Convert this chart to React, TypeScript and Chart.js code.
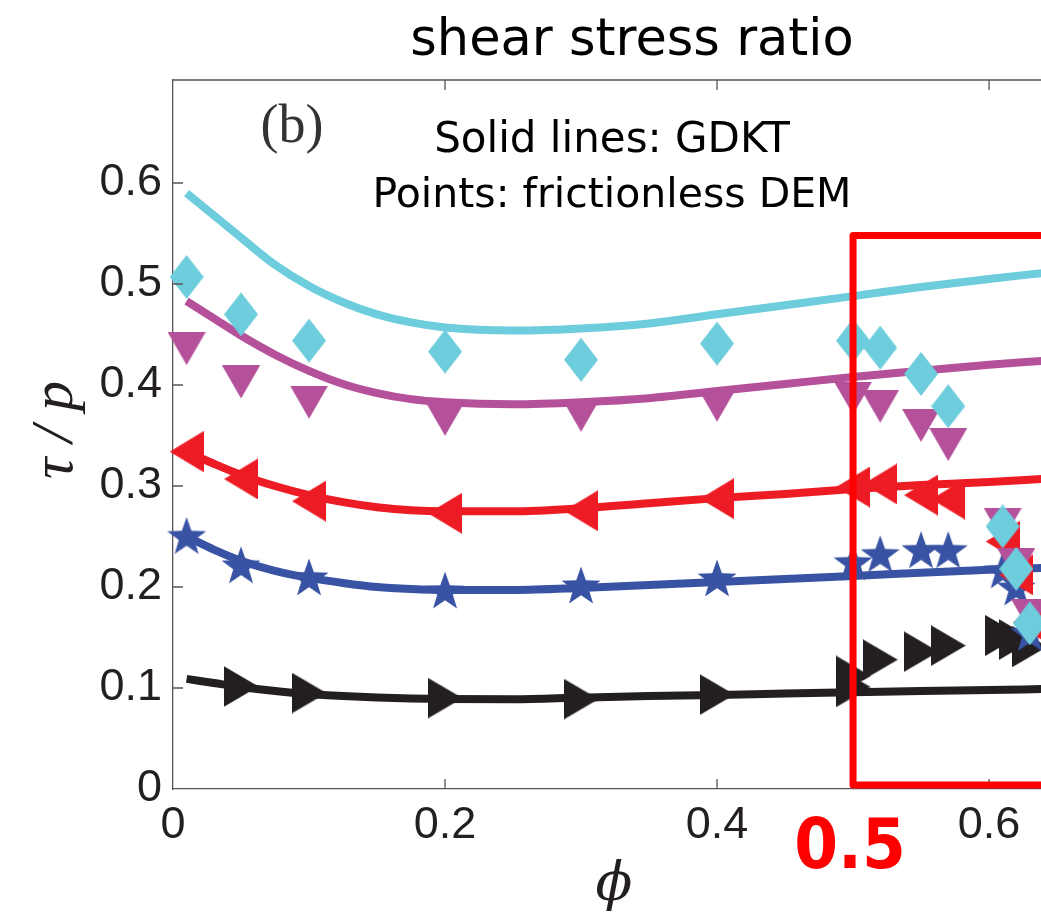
import React, { useEffect, useRef } from 'react';
import { Chart, registerables } from 'chart.js';

Chart.register(...registerables);

// ---- GDKT solid lines (phi, tau/p) ----
const phiLine = [0.01, 0.03, 0.05, 0.075, 0.1, 0.125, 0.15, 0.175, 0.2, 0.25, 0.3, 0.35, 0.4, 0.45, 0.5, 0.55, 0.6, 0.64];
const cyanLine = [0.59, 0.568, 0.546, 0.519, 0.498, 0.482, 0.47, 0.462, 0.457, 0.454, 0.456, 0.461, 0.47, 0.479, 0.488, 0.497, 0.505, 0.511];
const magentaLine = [0.483, 0.466, 0.449, 0.43, 0.414, 0.401, 0.392, 0.386, 0.383, 0.381, 0.383, 0.387, 0.394, 0.401, 0.408, 0.414, 0.42, 0.424];
const redLine = [0.334, 0.322, 0.311, 0.3, 0.291, 0.284, 0.279, 0.276, 0.275, 0.275, 0.278, 0.283, 0.288, 0.292, 0.297, 0.301, 0.304, 0.307];
const blueLine = [0.25, 0.237, 0.226, 0.216, 0.209, 0.204, 0.2, 0.198, 0.197, 0.197, 0.199, 0.202, 0.205, 0.208, 0.211, 0.214, 0.217, 0.219];
const blackLine = [0.109, 0.105, 0.101, 0.097, 0.094, 0.092, 0.0905, 0.0895, 0.089, 0.0888, 0.0905, 0.092, 0.093, 0.0945, 0.0957, 0.097, 0.098, 0.099];

// ---- frictionless DEM points ----
const cyanPhi = [0.01, 0.05, 0.1, 0.2, 0.3, 0.4, 0.5, 0.52, 0.55, 0.57, 0.61, 0.62, 0.63];
const cyanPts = [0.507, 0.47, 0.444, 0.433, 0.425, 0.441, 0.444, 0.437, 0.411, 0.379, 0.26, 0.218, 0.164];
const magentaPhi = [0.01, 0.05, 0.1, 0.2, 0.3, 0.4, 0.5, 0.52, 0.55, 0.57, 0.61, 0.62, 0.63];
const magentaPts = [0.436, 0.403, 0.383, 0.366, 0.37, 0.38, 0.387, 0.379, 0.36, 0.341, 0.262, 0.222, 0.172];
const redPhi = [0.01, 0.05, 0.1, 0.2, 0.3, 0.4, 0.5, 0.52, 0.55, 0.57, 0.61, 0.62, 0.63];
const redPts = [0.334, 0.307, 0.285, 0.273, 0.2755, 0.2875, 0.299, 0.302, 0.291, 0.287, 0.245, 0.212, 0.165];
const bluePhi = [0.01, 0.05, 0.1, 0.2, 0.3, 0.4, 0.5, 0.52, 0.55, 0.57, 0.61, 0.62, 0.63];
const bluePts = [0.251, 0.222, 0.21, 0.197, 0.202, 0.209, 0.225, 0.233, 0.237, 0.237, 0.217, 0.2, 0.155];
const blackPhi = [0.05, 0.1, 0.2, 0.3, 0.4, 0.5, 0.5, 0.52, 0.55, 0.57, 0.61, 0.62, 0.63];
const blackPts = [0.1015, 0.095, 0.09, 0.089, 0.0935, 0.112, 0.101, 0.128, 0.136, 0.142, 0.152, 0.148, 0.141];

const xTicks = [0, 0.2, 0.4, 0.6];
const yTicks = [0, 0.1, 0.2, 0.3, 0.4, 0.5, 0.6];

const CYAN = '#6dcddc';
const MAGENTA = '#b5519b';
const RED = '#ed1c24';
const BLUE = '#3953a4';
const BLACK = '#231f20';

function makeMarker(kind: string, color: string): HTMLCanvasElement {
  const c = document.createElement('canvas');
  let w = 34, h = 44;
  if (kind === 'down') { w = 38; h = 33; }
  if (kind === 'left') { w = 34; h = 41; }
  if (kind === 'right') { w = 35; h = 41; }
  if (kind === 'star') { w = 42; h = 42; }
  c.width = w; c.height = h;
  const g = c.getContext('2d')!;
  g.fillStyle = color;
  g.beginPath();
  if (kind === 'diamond') {
    g.moveTo(w / 2, 0); g.lineTo(w, h / 2); g.lineTo(w / 2, h); g.lineTo(0, h / 2);
  } else if (kind === 'down') {
    g.moveTo(0, 0); g.lineTo(w, 0); g.lineTo(w / 2, h);
  } else if (kind === 'left') {
    g.moveTo(0, h / 2); g.lineTo(w, 0); g.lineTo(w, h);
  } else if (kind === 'right') {
    g.moveTo(0, 0); g.lineTo(w, h / 2); g.lineTo(0, h);
  } else {
    const R = 20.5, r = 8.2, cx = w / 2, cy = h / 2 + 2;
    for (let i = 0; i < 10; i++) {
      const a = -Math.PI / 2 + (i * Math.PI) / 5;
      const rr = i % 2 === 0 ? R : r;
      const px = cx + rr * Math.cos(a), py = cy + rr * Math.sin(a);
      if (i === 0) g.moveTo(px, py); else g.lineTo(px, py);
    }
  }
  g.closePath();
  g.fill();
  return c;
}

const toXY = (xs: number[], ys: number[]) => xs.map((x, i) => ({ x, y: ys[i] }));

export default function App() {
  const ref = useRef<HTMLCanvasElement>(null);

  useEffect(() => {
    if (!ref.current) return;

    const lineDs = (ys: number[], color: string) => ({
      data: toXY(phiLine, ys),
      showLine: true,
      borderColor: color,
      backgroundColor: color,
      borderWidth: 8,
      pointRadius: 0,
      cubicInterpolationMode: 'monotone' as const,
      order: 10,
      clip: 4,
    });
    const ptDs = (xs: number[], ys: number[], marker: HTMLCanvasElement, order: number) => ({
      data: toXY(xs, ys),
      showLine: false,
      pointStyle: marker,
      pointRadius: 20,
      order,
      clip: false as const,
    });

    const annot = {
      id: 'annot',
      afterDraw(chart: any) {
        const ctx = chart.ctx as CanvasRenderingContext2D;
        const xs = chart.scales.x, ys = chart.scales.y;
        const ca = chart.chartArea;
        ctx.save();
        // top border
        ctx.strokeStyle = '#555';
        ctx.lineWidth = 1.3;
        ctx.beginPath();
        ctx.moveTo(ca.left, ca.top);
        ctx.lineTo(ca.right + 2, ca.top);
        ctx.stroke();
        // inward ticks
        ctx.beginPath();
        for (const v of yTicks) {
          if (v === 0) continue;
          const py = ys.getPixelForValue(v);
          ctx.moveTo(ca.left, py); ctx.lineTo(ca.left + 10, py);
        }
        for (const v of xTicks) {
          if (v === 0) continue;
          const px = xs.getPixelForValue(v);
          ctx.moveTo(px, ca.bottom); ctx.lineTo(px, ca.bottom - 10);
          ctx.moveTo(px, ca.top); ctx.lineTo(px, ca.top + 10);
        }
        ctx.stroke();

        // red box
        const bl = xs.getPixelForValue(0.5);
        const bt = ys.getPixelForValue(0.548);
        const bb = ys.getPixelForValue(0.004);
        ctx.strokeStyle = '#ff0000';
        ctx.lineWidth = 7;
        ctx.lineJoin = 'round';
        ctx.beginPath();
        ctx.moveTo(ca.right + 20, bb);
        ctx.lineTo(bl, bb);
        ctx.lineTo(bl, bt);
        ctx.lineTo(ca.right + 20, bt);
        ctx.stroke();

        // texts
        ctx.textAlign = 'center';
        ctx.textBaseline = 'alphabetic';
        ctx.fillStyle = '#000';
        ctx.font = "51px 'DejaVu Sans'";
        ctx.fillText('shear stress ratio', 632, 55);
        ctx.font = "42px 'DejaVu Sans'";
        ctx.fillText('Solid lines: GDKT', 612, 152);
        ctx.font = "41px 'DejaVu Sans'";
        ctx.fillText('Points: frictionless DEM', 612, 207);

        ctx.fillStyle = '#333';
        ctx.font = "54px 'Liberation Serif'";
        ctx.fillText('(b)', 292, 142);

        // x title
        ctx.fillStyle = BLACK;
        ctx.font = "italic 54px 'DejaVu Serif'";
        ctx.fillText('\u03d5', 614, 900);

        // y title
        ctx.save();
        ctx.translate(72, 430);
        ctx.rotate(-Math.PI / 2);
        ctx.font = "italic 60px 'Liberation Serif'";
        ctx.fillText('\u03c4 / p', 0, 0);
        ctx.restore();

        // red 0.5
        ctx.save();
        ctx.translate(850, 868);
        ctx.scale(0.9, 1);
        ctx.fillStyle = '#ff0000';
        ctx.font = "bold 70px 'DejaVu Sans'";
        ctx.fillText('0.5', 0, 0);
        ctx.restore();

        ctx.restore();
      },
    };

    const chart = new Chart(ref.current, {
      type: 'scatter',
      data: {
        datasets: [
          lineDs(cyanLine, CYAN),
          lineDs(magentaLine, MAGENTA),
          lineDs(redLine, RED),
          lineDs(blueLine, BLUE),
          lineDs(blackLine, BLACK),
          ptDs(blackPhi, blackPts, makeMarker('right', BLACK), 5),
          ptDs(bluePhi, bluePts, makeMarker('star', BLUE), 4),
          ptDs(redPhi, redPts, makeMarker('left', RED), 3),
          ptDs(magentaPhi, magentaPts, makeMarker('down', MAGENTA), 2),
          ptDs(cyanPhi, cyanPts, makeMarker('diamond', CYAN), 1),
        ] as any,
      },
      options: {
        animation: false,
        responsive: true,
        maintainAspectRatio: false,
        layout: { autoPadding: false, padding: { top: 80, left: 0, right: 0, bottom: 0 } },
        plugins: { legend: { display: false }, tooltip: { enabled: false }, title: { display: false } },
        scales: {
          x: {
            type: 'linear',
            min: 0,
            max: 0.6382,
            afterBuildTicks: (s: any) => { s.ticks = xTicks.map((v) => ({ value: v })); },
            afterFit: (s: any) => { s.height = 125; s.paddingLeft = 0; s.paddingRight = 0; },
            grid: { drawOnChartArea: false, drawTicks: false },
            border: { display: true, color: '#555', width: 1.3 },
            ticks: {
              padding: 10,
              color: BLACK,
              font: { family: "'Liberation Sans', Arial, sans-serif", size: 45 },
              callback: (v: any) => String(v),
              maxRotation: 0,
              autoSkip: false,
            },
          },
          y: {
            type: 'linear',
            min: 0,
            max: 0.702,
            afterBuildTicks: (s: any) => { s.ticks = yTicks.map((v) => ({ value: v })); },
            afterFit: (s: any) => { s.width = 173; s.paddingTop = 0; s.paddingBottom = 0; },
            grid: { drawOnChartArea: false, drawTicks: false },
            border: { display: true, color: '#555', width: 1.3 },
            ticks: {
              padding: 11,
              color: BLACK,
              font: { family: "'Liberation Sans', Arial, sans-serif", size: 45 },
              callback: (v: any) => String(Math.round(v * 10) / 10),
              autoSkip: false,
            },
          },
        },
      } as any,
      plugins: [annot],
    });

    return () => chart.destroy();
  }, []);

  return (
    <div style={{ position: 'absolute', left: 0, top: 0, width: 1041, height: 914, background: '#fff', overflow: 'hidden' }}>
      <canvas ref={ref} />
    </div>
  );
}
